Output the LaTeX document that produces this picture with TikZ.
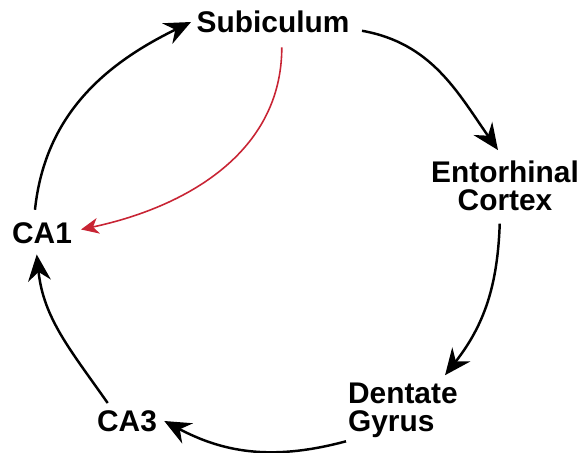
\documentclass[tikz,border=0pt]{standalone}
\usepackage{fontspec}
\setmainfont{Liberation Sans}
\usepackage{tikz}
\usetikzlibrary{arrows.meta}
\usetikzlibrary{positioning}
\usetikzlibrary{calc}
\definecolor{loopred}{RGB}{200,36,52}
\begin{document}
\begin{tikzpicture}[x=0.02cm,y=-0.02cm]
			\useasboundingbox (0,0) rectangle (580,452);
			\begin{scope}[every node/.style={font=\fontsize{17}{16}\selectfont\bfseries,inner sep=1pt}]
		    \node (sub) at (273,22) {Subiculum};
		    \node[align=center] (ent) at (505,186) {Entorhinal\\Cortex};
		    \node[align=left,anchor=west] (den) at (346,410) {Dentate\\Gyrus};
		    \node (ca3) at (127,421) {CA3};
		    \node (ca1) at (42,233) {CA1};
			\end{scope}
			\begin{scope}[every edge/.style={draw=black,line width=1.4pt,-{Stealth[length=15pt,width=13pt,inset=5pt]}}]
		    \path ([xshift=-4pt,yshift=6pt]ca1.north) edge[out=84,in=206] ([xshift=-2pt]sub.west);
		    \path ([xshift=6pt,yshift=-5pt]sub.east) edge[out=-10,in=125] ([xshift=-4pt,yshift=5pt]ent.north);
		    \path ([xshift=-3pt,yshift=-6pt]ent.south) edge[out=-92,in=52] ([xshift=24pt,yshift=3pt]den.north);
		    \path ([yshift=-1pt]den.south west) edge[out=195,in=-28] ([xshift=3pt]ca3.east);
		    \path ([xshift=-11pt,yshift=3pt]ca3.north) edge[out=125,in=-84] ([xshift=-3pt,yshift=-5pt]ca1.south);
	    \end{scope}
	    \path ([xshift=5pt,yshift=-7pt]sub.south) edge[draw=loopred,line width=0.9pt,-{Stealth[length=10pt,width=9pt,inset=3pt]},out=-90,in=12] ([xshift=4pt,yshift=2pt]ca1.east);
    \end{tikzpicture}
\end{document}
